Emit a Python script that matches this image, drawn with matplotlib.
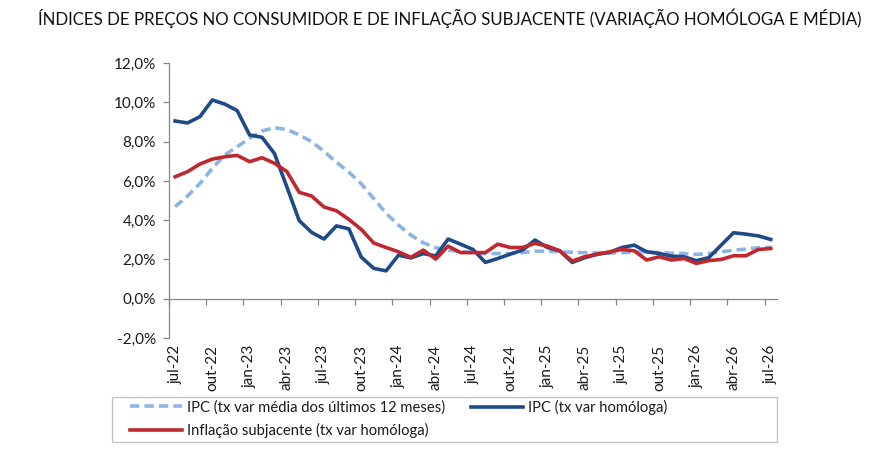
import matplotlib
matplotlib.use("Agg")
import matplotlib.pyplot as plt
from matplotlib.lines import Line2D
from matplotlib.patches import Rectangle
from matplotlib.ticker import FuncFormatter
import numpy as np

plt.rcParams['font.family'] = ['Lato', 'DejaVu Sans']

# monthly values, jul-22 .. jul-26 (%)
ipc_media12 = [4.69, 5.23, 5.87, 6.64, 7.32, 7.74, 8.17, 8.54, 8.71, 8.62,
               8.34, 8.00, 7.50, 6.95, 6.45, 5.85, 5.10, 4.35, 3.75, 3.24,
               2.85, 2.60, 2.48, 2.40, 2.35, 2.30, 2.30, 2.30, 2.35, 2.42,
               2.42, 2.40, 2.36, 2.35, 2.33, 2.33, 2.35, 2.38, 2.38, 2.35,
               2.32, 2.30, 2.26, 2.30, 2.39, 2.47, 2.53, 2.60, 2.62]
ipc_homologa = [9.05, 8.95, 9.27, 10.12, 9.91, 9.58, 8.34, 8.22, 7.40, 5.70,
                3.98, 3.38, 3.04, 3.71, 3.56, 2.12, 1.55, 1.42, 2.22, 2.08,
                2.30, 2.18, 3.04, 2.78, 2.51, 1.85, 2.05, 2.27, 2.48, 2.99,
                2.61, 2.44, 1.85, 2.09, 2.26, 2.36, 2.61, 2.73, 2.39, 2.31,
                2.17, 2.14, 1.94, 2.09, 2.73, 3.36, 3.29, 3.20, 3.02]
subjacente = [6.21, 6.47, 6.86, 7.11, 7.23, 7.30, 6.98, 7.18, 6.90, 6.48,
              5.42, 5.23, 4.67, 4.48, 4.04, 3.53, 2.84, 2.61, 2.39, 2.11,
              2.48, 2.02, 2.68, 2.35, 2.35, 2.35, 2.78, 2.61, 2.61, 2.82,
              2.68, 2.44, 1.92, 2.14, 2.27, 2.39, 2.51, 2.44, 1.97, 2.14,
              1.97, 2.05, 1.80, 1.94, 2.00, 2.19, 2.19, 2.51, 2.56]
tick_labels = ['jul-22', 'out-22', 'jan-23', 'abr-23', 'jul-23', 'out-23',
               'jan-24', 'abr-24', 'jul-24', 'out-24', 'jan-25', 'abr-25',
               'jul-25', 'out-25', 'jan-26', 'abr-26', 'jul-26']

c_media = '#8EB4E3'
c_ipc = '#1F4A88'
c_sub = '#C0282F'
axis_grey = '#868686'

fig = plt.figure(figsize=(8.89, 4.65), dpi=100)
ax = fig.add_axes([0.190, 0.273, 0.684, 0.5914])

x = np.arange(len(ipc_homologa))
ax.plot(x, ipc_media12, color=c_media, lw=2.6, dashes=(2.6, 1.4), clip_on=False)
ax.plot(x, ipc_homologa, color=c_ipc, lw=2.6, clip_on=False)
ax.plot(x, subjacente, color=c_sub, lw=2.6, clip_on=False)

ax.set_xlim(-0.5, len(x) - 0.5)
ax.set_ylim(-2, 12)

ax.spines['top'].set_visible(False)
ax.spines['right'].set_visible(False)
ax.spines['left'].set_color(axis_grey)
ax.spines['bottom'].set_color(axis_grey)
ax.spines['left'].set_linewidth(0.9)
ax.spines['bottom'].set_linewidth(0.9)
ax.spines['bottom'].set_position(('data', 0))

ax.set_yticks(np.arange(-2, 13, 2))
ax.yaxis.set_major_formatter(FuncFormatter(lambda v, p: f'{v:.1f}%'.replace('.', ',')))
ax.tick_params(axis='y', length=4.5, width=0.9, color=axis_grey, pad=5,
               labelsize=11, labelcolor='#1a1a1a')

# ticks between categories, labels on categories
ax.set_xticks(np.arange(-0.5, len(x) - 1, 3))
ax.set_xticklabels([])
ax.set_xticks(np.arange(0, len(x), 3), minor=True)
ax.set_xticklabels(tick_labels, minor=True, rotation=90)
ax.tick_params(axis='x', which='major', length=4, width=0.9, color=axis_grey)
ax.tick_params(axis='x', which='minor', length=0, pad=33, labelsize=11,
               labelcolor='#1a1a1a')

fig.text(0.506, 1 - 18 / 465,
         'ÍNDICES DE PREÇOS NO CONSUMIDOR E DE INFLAÇÃO SUBJACENTE (VARIAÇÃO HOMÓLOGA E MÉDIA)',
         ha='center', va='center', fontsize=12.2, color='#111111')

# legend
h_media = Line2D([], [], color=c_media, lw=2.6, dashes=(2.6, 1.4))
h_ipc = Line2D([], [], color=c_ipc, lw=2.6)
h_sub = Line2D([], [], color=c_sub, lw=2.6)
leg_kw = dict(loc='upper left', frameon=False, fontsize=10.6, borderpad=0,
              borderaxespad=0, handlelength=3.5, handletextpad=0.38,
              labelspacing=0.6, labelcolor='#1a1a1a')
fig.legend([h_media, h_sub],
           ['IPC (tx var média dos últimos 12 meses)',
            'Inflação subjacente (tx var homóloga)'],
           bbox_to_anchor=(130 / 889, 1 - 400 / 465), **leg_kw)
fig.legend([h_ipc], ['IPC (tx var homóloga)'],
           bbox_to_anchor=(471 / 889, 1 - 400 / 465), **leg_kw)
fig.patches.append(Rectangle((111.7 / 889, 1 - 441.7 / 465), 665.3 / 889, 45 / 465,
                             transform=fig.transFigure, fill=False,
                             edgecolor='#BFBFBF', lw=0.9))

fig.savefig('out.png', dpi=100)
